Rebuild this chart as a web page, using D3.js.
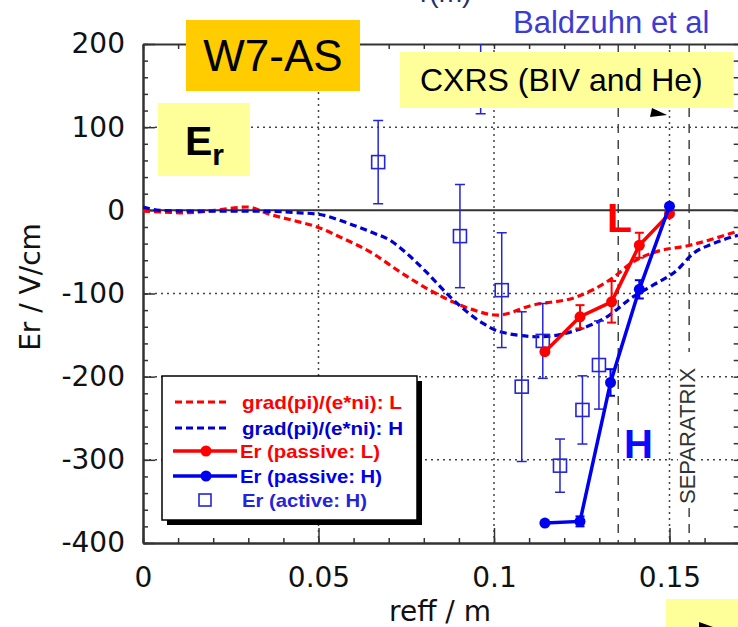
<!DOCTYPE html>
<html>
<head>
<meta charset="utf-8">
<script src="https://cdn.jsdelivr.net/npm/d3@7"></script>
<style>
  body { margin: 0; background: #fff; }
  svg { display: block; }
</style>
</head>
<body>
<svg></svg>
<script>
// grad(pi)/(e*ni) profiles, L and H mode
var gradL_r  = [0, 0.0057, 0.0114, 0.0205, 0.0296, 0.0362, 0.0427, 0.0496, 0.0561, 0.0655, 0.0732, 0.0826, 0.093, 0.1009, 0.111, 0.1236, 0.1339, 0.1396, 0.1453, 0.1558, 0.1695];
var gradL_er = [-1, -2, -3, 0, 4, -5, -12, -20, -32, -52, -74, -98, -118, -126, -114, -104, -81, -62, -51, -42, -25];
var gradH_r  = [0, 0.0048, 0.016, 0.033, 0.0447, 0.0504, 0.0581, 0.0655, 0.0704, 0.0752, 0.0809, 0.0875, 0.0969, 0.1017, 0.1131, 0.1236, 0.1322, 0.1396, 0.1453, 0.1521, 0.1567, 0.1624, 0.1695];
var gradH_er = [4, 0, -1, -1, -3, -5, -15, -27, -36, -52, -75, -104, -136, -146, -152, -144, -128, -104, -90, -72, -52, -40, -30];

// Er from passive spectroscopy
var passL_r   = [0.1145, 0.1245, 0.1335, 0.1414, 0.150];
var passL_er  = [-170, -128, -110, -42, -4];
var passL_err = [0, 14, 25, 15, 0];
var passH_r   = [0.1145, 0.1245, 0.1332, 0.1414, 0.150];
var passH_er  = [-376, -374, -207, -95, 5];
var passH_err = [0, 6, 16, 11, 0];

// Er from CXRS (active, H mode)
var act_r   = [0.067, 0.0903, 0.0962, 0.1022, 0.1079, 0.1139, 0.1188, 0.1252, 0.1299];
var act_er  = [58, -31, 240, -96, -212, -157, -307, -240, -186];
var act_err = [50, 62, 124, 69, 90, 45, 32, 41, 53];

var xMajor = [0, 0.05, 0.1, 0.15];
var yMajor = [-400, -300, -200, -100, 0, 100, 200];
var yGrid = [100, -100, -200, -300];
var xDashed = [0.1354, 0.1556];

var legendLabels = ["grad(pi)/(e*ni): L", "grad(pi)/(e*ni): H", "Er (passive: L)", "Er (passive: H)", "Er (active: H)"];

var W = 738, H = 627;
var pL = 143, pR = 739.7, pT = 44, pB = 543;
var red = "#ff0000", blue = "#0000f0", actBlue = "#2424d8", axisCol = "#333";
var axisFont = "'DejaVu Sans', sans-serif";
var arial = "'Liberation Sans', Arial, sans-serif";

var svg = d3.select("svg").attr("width", W).attr("height", H);

var x = d3.scaleLinear().domain([0, 0.17]).range([pL, pR]);
var y = d3.scaleLinear().domain([-400, 200]).range([pB, pT]);

svg.append("clipPath").attr("id", "plot")
  .append("rect").attr("x", pL).attr("y", pT)
  .attr("width", pR - pL).attr("height", pB - pT);

// partly cut-off text at the very top (as in the source slide)
svg.append("text").attr("x", 420).attr("y", 2)
  .style("font", "28px " + arial).attr("fill", "#23306a").text("r(m)");

// grid
var grid = svg.append("g").attr("stroke", "#444").attr("stroke-width", 1.5);
grid.selectAll(".gy").data(yGrid).enter().append("line")
  .attr("x1", pL).attr("x2", pR)
  .attr("y1", function(d) { return y(d); }).attr("y2", function(d) { return y(d); })
  .attr("stroke-dasharray", "2,4");
grid.selectAll(".gx").data([0.05, 0.1, 0.15]).enter().append("line")
  .attr("y1", pT).attr("y2", pB)
  .attr("x1", function(d) { return x(d); }).attr("x2", function(d) { return x(d); })
  .attr("stroke-dasharray", "2,4");
grid.selectAll(".gd").data(xDashed).enter().append("line")
  .attr("y1", pT).attr("y2", pB)
  .attr("x1", function(d) { return x(d); }).attr("x2", function(d) { return x(d); })
  .attr("stroke-dasharray", "9,7");
svg.append("line").attr("x1", pL).attr("x2", pR)
  .attr("y1", y(0)).attr("y2", y(0))
  .attr("stroke", axisCol).attr("stroke-width", 2);

// axes
var xMinor = d3.range(0, 0.1701, 0.01);
var yMinor = d3.range(-400, 201, 20);

function styleAxis(g) {
  g.select(".domain").attr("stroke", axisCol).attr("stroke-width", 2);
  g.selectAll(".tick line").attr("stroke", axisCol).attr("stroke-width", 1.5);
  g.selectAll("text").style("font", "28px " + axisFont).attr("fill", "#111");
}

svg.append("g").attr("transform", "translate(0," + pB + ")")
  .call(d3.axisBottom(x).tickValues(xMinor).tickSize(-5).tickSizeOuter(0).tickFormat(""))
  .call(styleAxis);
svg.append("g").attr("transform", "translate(0," + pB + ")")
  .call(d3.axisBottom(x).tickValues(xMajor).tickSize(-15).tickSizeOuter(0).tickPadding(24)
    .tickFormat(function(d) { return String(d); }))
  .call(styleAxis);
svg.append("g").attr("transform", "translate(0," + pT + ")")
  .call(d3.axisTop(x).tickValues(xMinor).tickSize(-5).tickSizeOuter(0).tickFormat(""))
  .call(styleAxis);
svg.append("g").attr("transform", "translate(" + pL + ",0)")
  .call(d3.axisLeft(y).tickValues(yMinor).tickSize(-5).tickSizeOuter(0).tickFormat(""))
  .call(styleAxis);
svg.append("g").attr("transform", "translate(" + pL + ",0)")
  .call(d3.axisLeft(y).tickValues(yMajor).tickSize(-12).tickSizeOuter(0).tickPadding(18)
    .tickFormat(function(d) { return String(d); }))
  .call(styleAxis);
svg.append("g").attr("transform", "translate(" + pR + ",0)")
  .call(d3.axisRight(y).tickValues(yMinor).tickSize(-6).tickSizeOuter(0).tickFormat(""))
  .call(styleAxis);

svg.append("text").attr("x", 440).attr("y", 621).attr("text-anchor", "middle")
  .style("font", "28px " + axisFont).attr("fill", "#111").text("reff / m");
svg.append("text").attr("transform", "translate(40,287) rotate(-90)").attr("text-anchor", "middle")
  .style("font", "28px " + axisFont).attr("fill", "#111").text("Er / V/cm");

// SEPARATRIX label, hides the dashed line behind it
svg.append("rect").attr("x", 678).attr("y", 352).attr("width", 19).attr("height", 154).attr("fill", "#fff");
svg.append("text").attr("transform", "translate(695,504) rotate(-90)")
  .style("font", "22px " + arial).attr("fill", "#333").text("SEPARATRIX");

// data
var plot = svg.append("g").attr("clip-path", "url(#plot)");
var line = d3.line().x(function(d) { return x(d[0]); }).y(function(d) { return y(d[1]); });
var smooth = d3.line().x(function(d) { return x(d[0]); }).y(function(d) { return y(d[1]); }).curve(d3.curveMonotoneX);

plot.append("path").datum(d3.zip(gradL_r, gradL_er)).attr("d", smooth)
  .attr("fill", "none").attr("stroke", red).attr("stroke-width", 3.2).attr("stroke-dasharray", "7,4");
plot.append("path").datum(d3.zip(gradH_r, gradH_er)).attr("d", smooth)
  .attr("fill", "none").attr("stroke", "#0000d0").attr("stroke-width", 3.2).attr("stroke-dasharray", "7,4");

function errorBars(g, rs, vals, errs, color, cap, sw) {
  var d = d3.zip(rs, vals, errs).filter(function(p) { return p[2] > 0; });
  var eb = g.append("g").attr("stroke", color).attr("stroke-width", sw);
  eb.selectAll(".v").data(d).enter().append("line")
    .attr("x1", function(p) { return x(p[0]); }).attr("x2", function(p) { return x(p[0]); })
    .attr("y1", function(p) { return y(p[1] + p[2]); }).attr("y2", function(p) { return y(p[1] - p[2]); });
  [1, -1].forEach(function(s) {
    eb.selectAll(".c" + (s > 0 ? "t" : "b")).data(d).enter().append("line")
      .attr("x1", function(p) { return x(p[0]) - cap; }).attr("x2", function(p) { return x(p[0]) + cap; })
      .attr("y1", function(p) { return y(p[1] + s * p[2]); }).attr("y2", function(p) { return y(p[1] + s * p[2]); });
  });
}

errorBars(plot, act_r, act_er, act_err, actBlue, 5, 1.5);
plot.selectAll(".sq").data(d3.zip(act_r, act_er)).enter().append("rect")
  .attr("x", function(p) { return x(p[0]) - 6.5; }).attr("y", function(p) { return y(p[1]) - 6.5; })
  .attr("width", 13).attr("height", 13)
  .attr("fill", "none").attr("stroke", actBlue).attr("stroke-width", 1.6);

errorBars(plot, passL_r, passL_er, passL_err, red, 4.5, 2);
errorBars(plot, passH_r, passH_er, passH_err, blue, 4.5, 2);

plot.append("path").datum(d3.zip(passL_r, passL_er)).attr("d", line)
  .attr("fill", "none").attr("stroke", red).attr("stroke-width", 3.5);
plot.selectAll(".mL").data(d3.zip(passL_r, passL_er)).enter().append("circle")
  .attr("cx", function(p) { return x(p[0]); }).attr("cy", function(p) { return y(p[1]); })
  .attr("r", 5.5).attr("fill", red);
plot.append("path").datum(d3.zip(passH_r, passH_er)).attr("d", line)
  .attr("fill", "none").attr("stroke", blue).attr("stroke-width", 3.5);
plot.selectAll(".mH").data(d3.zip(passH_r, passH_er)).enter().append("circle")
  .attr("cx", function(p) { return x(p[0]); }).attr("cy", function(p) { return y(p[1]); })
  .attr("r", 5.5).attr("fill", blue);

// L / H labels
svg.append("text").attr("x", 607).attr("y", 232).style("font", "bold 41px " + arial)
  .attr("fill", red).text("L");
svg.append("text").attr("x", 624).attr("y", 458).style("font", "bold 40px " + arial)
  .attr("fill", "#0a0aff").text("H");

// legend
var lg = svg.append("g");
lg.append("rect").attr("x", 167).attr("y", 381).attr("width", 255).attr("height", 144).attr("fill", "#000");
lg.append("rect").attr("x", 162).attr("y", 376).attr("width", 255).attr("height", 144)
  .attr("fill", "#fff").attr("stroke", "#000").attr("stroke-width", 1.5);
var lgY = [402, 428, 451, 476, 500];
var lgCol = [red, "#0000d0", red, blue, actBlue];
var lgW = [160, 161, 140, 142, 125];
lg.selectAll(".lt").data(legendLabels).enter().append("text")
  .attr("x", function(d, i) { return i >= 2 && i < 4 ? 240 : 242; })
  .attr("y", function(d, i) { return lgY[i] + 6.5; })
  .attr("textLength", function(d, i) { return lgW[i]; }).attr("lengthAdjust", "spacingAndGlyphs")
  .style("font", "bold 19px " + arial)
  .attr("fill", function(d, i) { return lgCol[i]; })
  .text(function(d) { return d; });
[0, 1].forEach(function(i) {
  lg.append("line").attr("x1", 175).attr("x2", 228).attr("y1", lgY[i]).attr("y2", lgY[i])
    .attr("stroke", lgCol[i]).attr("stroke-width", 3).attr("stroke-dasharray", "7,4");
});
[2, 3].forEach(function(i) {
  lg.append("line").attr("x1", 173).attr("x2", 237).attr("y1", lgY[i]).attr("y2", lgY[i])
    .attr("stroke", lgCol[i]).attr("stroke-width", 3.5);
  lg.append("circle").attr("cx", 206).attr("cy", lgY[i]).attr("r", 5.5).attr("fill", lgCol[i]);
});
lg.append("rect").attr("x", 199).attr("y", lgY[4] - 6).attr("width", 12).attr("height", 12)
  .attr("fill", "none").attr("stroke", actBlue).attr("stroke-width", 1.6);

// annotation boxes
svg.append("rect").attr("x", 186).attr("y", 20).attr("width", 174).attr("height", 71).attr("fill", "#ffcc00");
svg.append("text").attr("x", 273).attr("y", 71).attr("text-anchor", "middle")
  .style("font", "44px " + arial).attr("fill", "#000").text("W7-AS");

svg.append("rect").attr("x", 158).attr("y", 103).attr("width", 92).attr("height", 73).attr("fill", "#ffff99");
var er = svg.append("text").attr("x", 185).attr("y", 155).style("font", "bold 41px " + arial).attr("fill", "#000");
er.append("tspan").text("E");
er.append("tspan").attr("dy", 10).style("font-size", "30px").text("r");

svg.append("rect").attr("x", 400).attr("y", 52).attr("width", 333).attr("height", 56).attr("fill", "#ffff99");
svg.append("text").attr("x", 420).attr("y", 91).style("font", "32px " + arial)
  .attr("fill", "#000").text("CXRS (BIV and He)");
svg.append("polygon").attr("points", "650,117 652,108 667,115").attr("fill", "#000");

svg.append("text").attr("x", 513).attr("y", 33).style("font", "31px " + arial)
  .attr("fill", "#3c3cd2").text("Baldzuhn et al");

svg.append("rect").attr("x", 666).attr("y", 599).attr("width", 72).attr("height", 28).attr("fill", "#ffff99");
svg.append("polygon").attr("points", "699,622 713,627 699,627").attr("fill", "#000");
</script>
</body>
</html>
